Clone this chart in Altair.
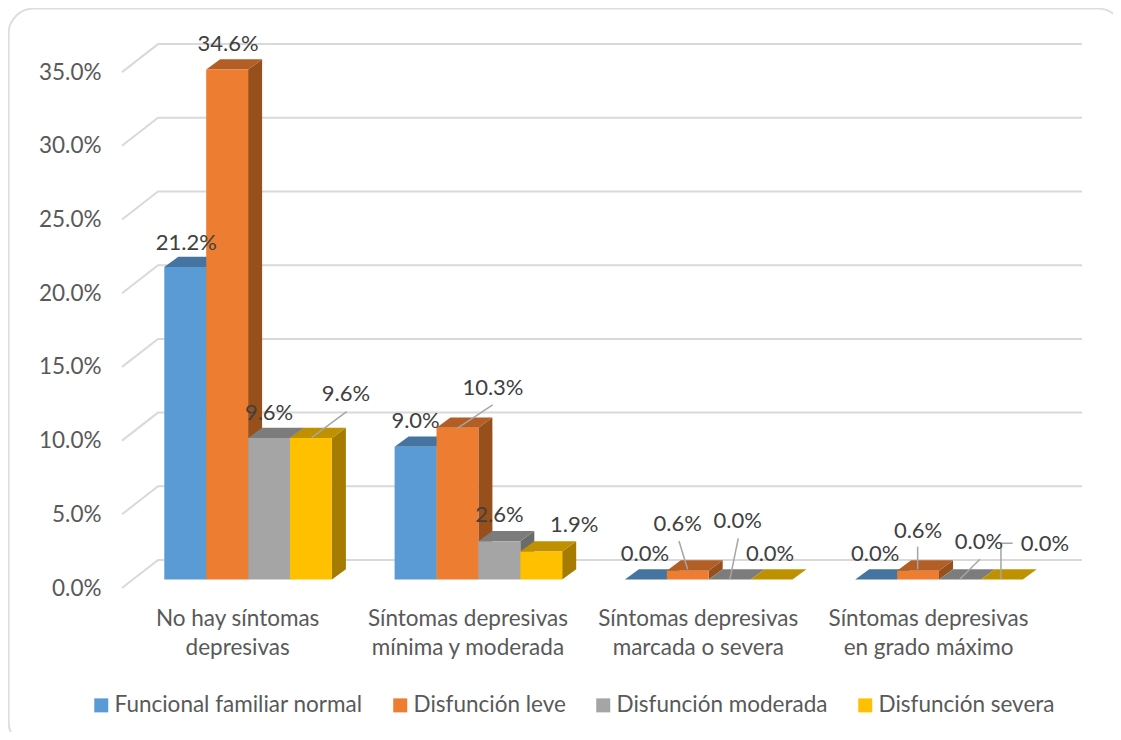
import altair as alt
import pandas as pd

CATEGORIES = ["No hay síntomas\ndepresivas", "Síntomas depresivas\nmínima y moderada",
              "Síntomas depresivas\nmarcada o severa", "Síntomas depresivas\nen grado máximo"]
SERIES = ["Funcional familiar normal", "Disfunción leve", "Disfunción moderada", "Disfunción severa"]
VALUES = [
    [21.2, 9.0, 0.0, 0.0],
    [34.6, 10.3, 0.6, 0.6],
    [9.6, 2.6, 0.0, 0.0],
    [9.6, 1.9, 0.0, 0.0],
]
TICKS = [0, 5, 10, 15, 20, 25, 30, 35]

FRONT = ["#5B9BD5", "#ED7D31", "#A5A5A5", "#FFC000"]
TOP = ["#44749F", "#B25E25", "#7C7C7C", "#BF9000"]
SIDE = ["#3B6589", "#97501B", "#6B6B6B", "#A67C00"]
FONT = "Lato"
FS = 22.5

# layout (page pixels)
W, H = 1105, 724
PX_CAT, X0 = 230.3, 133.0
PX_VAL, Y0 = 14.74, 579.5
BAR = 41.9 / PX_CAT
GAP = 31.3 / PX_CAT
DX, DY = 14 / PX_CAT, 10.3 / PX_VAL


def ux(p):
    return (p - X0) / PX_CAT


def uy(p):
    return (Y0 - p) / PX_VAL


xs = alt.Scale(domain=[ux(8), ux(8 + W)], range=[0, W], nice=False, zero=False)
ys = alt.Scale(domain=[uy(8 + H), uy(8)], range=[H, 0], nice=False, zero=False)
y_axis = alt.Axis(
    values=TICKS, labelExpr="format(datum.value, '.1f') + '%'", orient="left", offset=-93,
    domain=False, ticks=False, grid=False, labelOffset=8.5, labelPadding=0, title=None,
    labelFont=FONT, labelFontSize=FS, labelColor="#595959")


def X(f="x"):
    return alt.X(f"{f}:Q", scale=xs, axis=None)


def Y(f="y"):
    return alt.Y(f"{f}:Q", scale=ys, axis=y_axis, stack=None)


def bar_left(c, s):
    return c + GAP + s * BAR


# chart-area border: rounded rectangle that runs past the picture's right and bottom edges
border = alt.Chart(pd.DataFrame([{"x": ux(8.6), "x2": ux(1123), "y": uy(747), "y2": uy(8.6)}])).mark_rect(
    fill="transparent", stroke="#DEDEDE", strokeWidth=2, cornerRadius=25, clip=True).encode(
    x=X(), x2="x2:Q", y=Y(), y2="y2:Q")

# back wall gridlines with left slanted returns
grid_rows = []
for t in TICKS:
    back = t + 19.5 / PX_VAL
    for order, (px, v) in enumerate([(122, back - 28 / PX_VAL), (158, back), (1082, back)]):
        grid_rows.append({"id": t, "o": order, "x": ux(px), "y": v})
grid = alt.Chart(pd.DataFrame(grid_rows)).mark_line(color="#D9D9D9", strokeWidth=2).encode(
    x=X(), y=Y(), detail="id:N", order="o:Q")

layers = [border, grid]
color = alt.Color("s:N", scale=alt.Scale(domain=SERIES, range=FRONT), title=None, legend=alt.Legend(
    orient="none", legendX=82, legendY=686, direction="horizontal", columns=4, columnPadding=26,
    symbolType="square", symbolSize=196, symbolStrokeWidth=0, labelFont=FONT, labelFontSize=FS,
    labelColor="#595959", labelOffset=2, labelLimit=400, gridAlign="each"))

for s, name in enumerate(SERIES):
    side, top, front = [], [], []
    for c in range(len(CATEGORIES)):
        v = VALUES[s][c]
        l = bar_left(c, s)
        r = l + BAR
        side += [{"g": c, "x": r, "y": v, "y2": 0},
                 {"g": c, "x": r + DX, "y": v + DY, "y2": DY}]
        top += [{"g": c, "y": v, "x": l, "x2": r},
                {"g": c, "y": v + DY, "x": l + DX, "x2": r + DX}]
        front.append({"s": name, "x": l, "x2": r, "y": v, "y2": 0})
    layers.append(alt.Chart(pd.DataFrame(side)).mark_area(color=SIDE[s], opacity=1).encode(
        x=X(), y=Y(), y2="y2:Q", detail="g:N"))
    layers.append(alt.Chart(pd.DataFrame(top)).mark_area(color=TOP[s], opacity=1, orient="horizontal").encode(
        x=X(), x2="x2:Q", y=Y(), detail="g:N"))
    layers.append(alt.Chart(pd.DataFrame(front)).mark_rect().encode(
        x=X(), x2="x2:Q", y=Y(), y2="y2:Q", color=color))

# data-label offsets from each bar's top-centre, pixels, [series][category]
LABEL_OFF = [
    [(1, -24), (0, -26), (-1, -25.5), (-1, -25.5)],
    [(1, -25.5), (35.5, -40), (-10, -46.7), (0, -39.7)],
    [(0, -25), (0, -26), (8, -58.5), (19, -37.5)],
    [(35, -44), (33, -26.5), (-1.5, -25.5), (43, -35.5)],
]
# leader lines: (series, category, offsets from the bar's top-centre)
LEADERS = [
    (3, 0, [(0.7, -0.3), (35.7, -26.3)]),
    (1, 1, [(-0.2, 0.6), (35.2, -22.7)]),
    (1, 2, [(-0.1, -1.4), (-8.8, -29.7)]),
    (2, 2, [(0.3, -0.5), (8.6, -41.2)]),
    (1, 3, [(-0.4, -1.4), (-0.4, -24)]),
    (2, 3, [(0, -0.5), (20, -20.2)]),
    (3, 3, [(-0.9, -0.5), (-0.9, -36.2), (10.8, -36.2)]),
]

leader_rows = []
for i, (s, c, pts) in enumerate(LEADERS):
    cx = bar_left(c, s) + BAR / 2
    for o, (dx, dy) in enumerate(pts):
        leader_rows.append({"id": i, "o": o, "x": cx + dx / PX_CAT, "y": VALUES[s][c] - dy / PX_VAL})
layers.append(alt.Chart(pd.DataFrame(leader_rows)).mark_line(color="#A6A6A6", strokeWidth=1.5).encode(
    x=X(), y=Y(), detail="id:N", order="o:Q"))

label_rows = []
for s in range(len(SERIES)):
    for c in range(len(CATEGORIES)):
        dx, dy = LABEL_OFF[s][c]
        v = VALUES[s][c]
        label_rows.append({"x": bar_left(c, s) + BAR / 2 + dx / PX_CAT, "y": v - dy / PX_VAL,
                           "t": f"{v:.1f}%"})
layers.append(alt.Chart(pd.DataFrame(label_rows)).mark_text(
    font=FONT, fontSize=22, color="#404040", align="center", baseline="middle").encode(
    x=X(), y=Y(), text="t:N"))

cat_rows = [{"x": i + 0.5 - 10.5 / PX_CAT, "y": uy(608), "t": t} for i, t in enumerate(CATEGORIES)]
layers.append(alt.Chart(pd.DataFrame(cat_rows)).mark_text(
    font=FONT, fontSize=FS, color="#595959", align="center", baseline="top",
    lineBreak="\n", lineHeight=28.5).encode(x=X(), y=Y(), text="t:N"))

chart = alt.layer(*layers).properties(
    width=W, height=H, padding=0, autosize=alt.AutoSizeParams(type="none"),
).configure_view(stroke=None)

chart.save("out.html", embed_options={"renderer": "svg", "actions": False})
